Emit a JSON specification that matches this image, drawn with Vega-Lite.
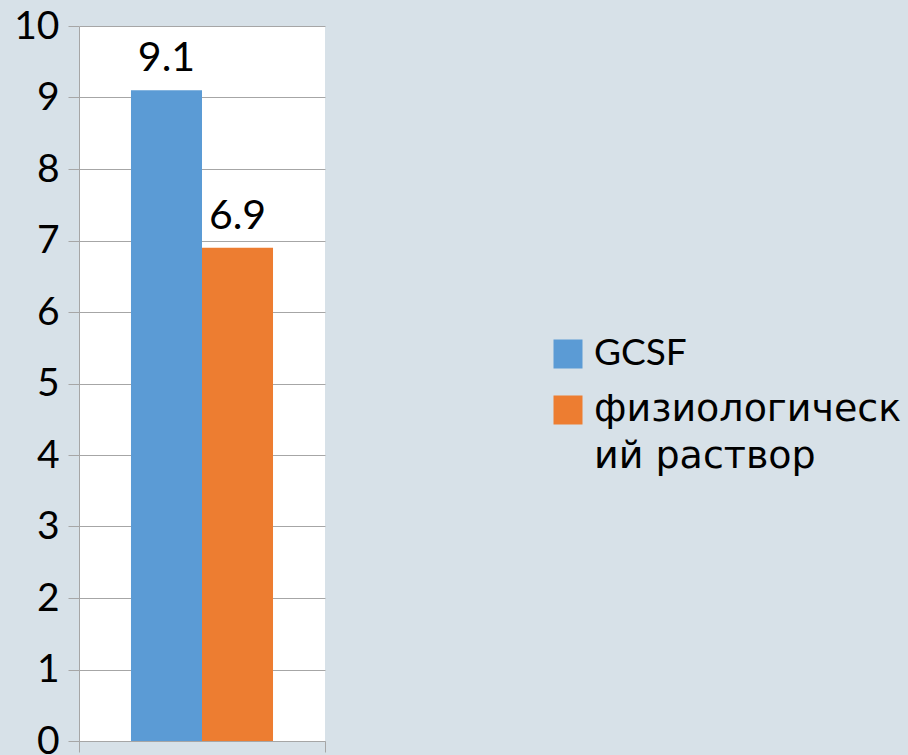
{
  "$schema": "https://vega.github.io/schema/vega-lite/v6.json",
  "width": 246,
  "height": 715,
  "autosize": {"type": "none"},
  "padding": {"left": 79, "top": 26, "right": 583, "bottom": 14},
  "background": "#d7e1e8",
  "config": {
    "font": "Lato",
    "view": {"fill": "white", "stroke": null}
  },
  "data": {
    "values": [
      {"group": "A", "series": "GCSF", "value": 9.1},
      {"group": "A", "series": "физиологический раствор", "value": 6.9}
    ]
  },
  "encoding": {
    "x": {
      "field": "group",
      "type": "nominal",
      "scale": {"paddingInner": 0, "paddingOuter": 0},
      "axis": {
        "labels": false,
        "title": null,
        "tickBand": "extent",
        "ticks": true,
        "tickSize": 11,
        "tickColor": "#a6a6a6",
        "domainColor": "#a6a6a6",
        "grid": false
      }
    },
    "xOffset": {
      "field": "series",
      "type": "nominal",
      "scale": {"paddingInner": 0, "paddingOuter": 0.732}
    },
    "y": {
      "field": "value",
      "type": "quantitative",
      "scale": {"domain": [0, 10], "nice": false},
      "axis": {
        "title": null,
        "values": [0, 1, 2, 3, 4, 5, 6, 7, 8, 9, 10],
        "grid": true,
        "gridColor": "#a6a6a6",
        "ticks": true,
        "tickColor": "#a6a6a6",
        "domainColor": "#a6a6a6",
        "tickSize": 11,
        "labelPadding": 9,
        "labelFontSize": 39,
        "labelColor": "black"
      }
    }
  },
  "layer": [
    {
      "mark": {"type": "bar"},
      "encoding": {
        "color": {
          "field": "series",
          "type": "nominal",
          "scale": {"range": ["#5b9bd5", "#ed7d31"]},
          "legend": {
            "title": null,
            "orient": "none",
            "legendX": 470,
            "legendY": 309,
            "symbolType": "square",
            "symbolSize": 841,
            "symbolStrokeWidth": 0,
            "symbolOpacity": 1,
            "labelFontSize": 37,
            "labelColor": "black",
            "labelLimit": 500,
            "labelOffset": 7,
            "rowPadding": 19,
            "labelExpr": "datum.label == 'физиологический раствор' ? ['физиологическ', 'ий раствор'] : datum.label",
            "encode": {
              "labels": {
                "update": {
                  "font": {"signal": "datum.label == 'GCSF' ? 'Lato' : 'DejaVu Sans'"},
                  "fontSize": {"signal": "datum.label == 'GCSF' ? 37 : 38"},
                  "lineHeight": {"value": 47}
                }
              }
            }
          }
        }
      }
    },
    {
      "mark": {"type": "text", "baseline": "alphabetic", "dy": -19, "fontSize": 41, "color": "black"},
      "encoding": {
        "text": {"field": "value", "type": "quantitative", "format": ".1f"}
      }
    }
  ]
}
